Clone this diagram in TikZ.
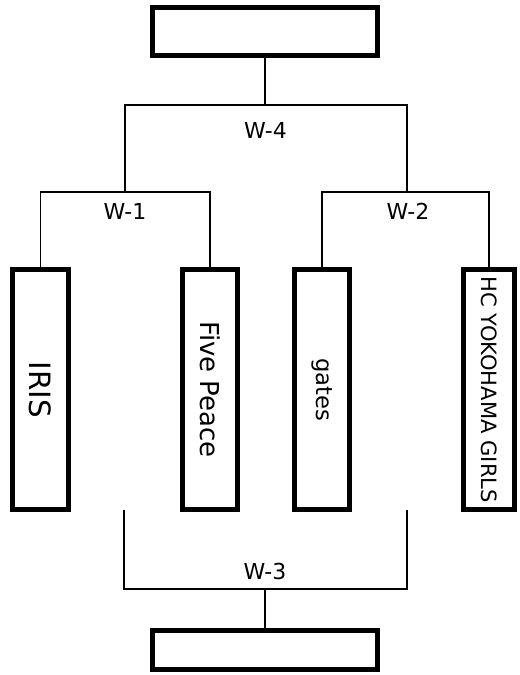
\documentclass[tikz,border=0pt]{standalone}
\usepackage{fontspec}
\setmainfont{DejaVu Sans}
\begin{document}
\begin{tikzpicture}[x=0.75pt,y=-0.75pt,
  conn/.style={line width=1.2pt,black},
  team/.style={draw=black,line width=3.4pt,fill=white,inner sep=0pt,minimum width=56*0.75pt,minimum height=240*0.75pt},
  final/.style={draw=black,line width=3.4pt,fill=white,inner sep=0pt,minimum width=225*0.75pt},
  lbl/.style={font=\fontsize{16.5}{19}\selectfont},
  vtext/.style={rotate=-90}]
\useasboundingbox (0,0) rectangle (519,675);
% junction coordinates
\coordinate (w1) at (125,192);
\coordinate (w2) at (407,192);
\coordinate (w4) at (265,105);
\coordinate (w3) at (265,589);
\coordinate (w3ls) at (124,510);
\coordinate (w3rs) at (407,510);
% boxes
\node[final,minimum height=48*0.75pt] (top) at (265,31.5) {};
\node[final,minimum height=39*0.75pt] (bot) at (265,650) {};
\node[team] (iris) at (40.5,389.5) {};
\node[team,minimum width=55*0.75pt] (five) at (210,389.5) {};
\node[team,minimum width=55*0.75pt] (gates) at (322,389.5) {};
\node[team,minimum width=51*0.75pt] (hc) at (489,389.5) {};
% connectors
\draw[conn] (iris.north) |- (w1) -| (five.north);
\draw[conn] (gates.north) |- (w2) -| (hc.north);
\draw[conn] (w1) |- (w4) -| (w2);
\draw[conn] (top.south) -- (w4);
\draw[conn] (w3ls) |- (w3) -| (w3rs);
\draw[conn] (w3) -- (bot.north);
% redraw box borders over connector ends
\node[final,minimum height=48*0.75pt] at (top) {};
\node[final,minimum height=39*0.75pt] at (bot) {};
\node[team] at (iris) {};
\node[team,minimum width=55*0.75pt] at (five) {};
\node[team,minimum width=55*0.75pt] at (gates) {};
\node[team,minimum width=51*0.75pt] at (hc) {};
% texts
\node[vtext,font=\fontsize{22}{25}\selectfont] (tiris) at (iris) {IRIS};
\node[vtext,font=\fontsize{19.5}{22}\selectfont] (tfive) at (five) {Five Peace};
\node[vtext,font=\fontsize{17}{20}\selectfont] (tgates) at (gates) {gates};
\node[vtext,font=\fontsize{15.8}{18}\selectfont,inner sep=0pt] (thc) at (hc) {HC YOKOHAMA GIRLS};
\node[lbl] (l4) at (265.5,130) {W-4};
\node[lbl] (l1) at (125,211) {W-1};
\node[lbl] (l2) at (408,211) {W-2};
\node[lbl] (l3) at (265,571) {W-3};
\end{tikzpicture}
\end{document}
